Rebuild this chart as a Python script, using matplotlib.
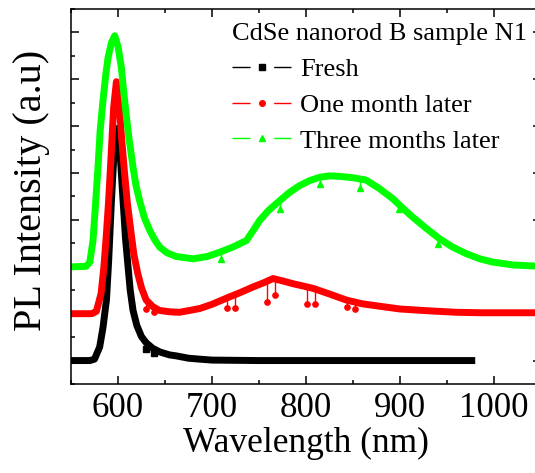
import numpy as np
import matplotlib
matplotlib.use("Agg")
import matplotlib.pyplot as plt
from matplotlib.lines import Line2D
from matplotlib.ticker import MultipleLocator, NullFormatter

# PL spectra of CdSe nanorod B sample N1
wl_fresh = [550, 570, 575, 580.5, 584, 587.7, 590, 593, 596.5, 599, 602, 605.4, 608,
            610.7, 613, 616, 620, 625, 630, 637, 645, 655, 662, 675, 687, 700, 750,
            850, 980]
pl_fresh = [0.0, 0.0, 0.03, 0.29, 0.7, 1.29, 2.1, 3.41, 4.69, 4.95, 4.5, 3.41, 2.6,
            2.0, 1.5, 1.07, 0.75, 0.51, 0.38, 0.26, 0.18, 0.12, 0.10, 0.05, 0.03, 0.01,
            0.0, 0.0, 0.0]

wl_month = [550, 572, 577, 582, 585, 587.7, 590, 592, 595.4, 598.3, 601.8, 604, 607,
            610, 614, 617, 621, 625, 630, 637, 644, 655, 665.6, 687, 700, 718.8, 730,
            743.6, 755, 765, 775, 786, 797, 807.5, 825, 843, 860, 878, 900, 931.6, 960,
            985, 1050]
pl_month = [1.0, 1.0, 1.05, 1.43, 2.0, 2.71, 3.4, 4.12, 5.40, 5.95, 5.33, 4.7, 3.99,
            3.35, 2.71, 2.25, 1.86, 1.55, 1.29, 1.15, 1.07, 1.04, 1.03, 1.11, 1.2, 1.36,
            1.45, 1.57, 1.66, 1.75, 1.70, 1.64, 1.59, 1.54, 1.42, 1.29, 1.21, 1.16, 1.10,
            1.06, 1.03, 1.02, 1.02]

wl_three = [550, 566, 570, 573.4, 576, 578.7, 581, 584, 587, 589.4, 593, 596.5, 600,
            603.6, 606, 609, 612, 616, 619, 623, 628, 633.7, 639, 644.4, 652, 662, 680,
            695, 708, 722, 736.6, 744, 750.7, 760, 772, 782, 793, 804, 814.6, 825,
            835.8, 850, 864, 878, 892.5, 903, 913.5, 928, 942, 956, 970.6, 985, 998.8,
            1020, 1050]
pl_three = [2.0, 2.01, 2.1, 2.56, 3.3, 4.12, 4.9, 5.54, 6.1, 6.46, 6.78, 6.93, 6.7,
            6.25, 5.75, 5.19, 4.7, 4.12, 3.75, 3.41, 3.05, 2.78, 2.58, 2.42, 2.3, 2.22,
            2.17, 2.22, 2.31, 2.42, 2.56, 2.78, 2.99, 3.2, 3.41, 3.58, 3.73, 3.84, 3.91,
            3.94, 3.93, 3.9, 3.85, 3.67, 3.45, 3.25, 3.06, 2.82, 2.60, 2.42, 2.28, 2.17,
            2.10, 2.04, 2.01]

# stray points hanging off the curves
glitch_fresh_x = [629.5, 638]
glitch_fresh_y = [0.24, 0.17]
glitch_month_x = [629.5, 638, 716, 724, 758.5, 767, 801.5, 809.6, 844, 852]
glitch_month_y = [1.11, 1.04, 1.12, 1.13, 1.24, 1.39, 1.20, 1.20, 1.15, 1.10]
glitch_three_x = [710, 772, 814.6, 857, 899, 940]
glitch_three_y = [2.17, 3.24, 3.77, 3.68, 3.24, 2.49]

labels = ["Fresh", "One month later", "Three months later"]
colors = ["#000000", "#ff0000", "#00ff00"]
markers = ["s", "o", "^"]

plt.rcParams['font.family'] = ['Liberation Serif', 'DejaVu Serif']

fig = plt.figure(figsize=(5.35, 4.73), dpi=100)
ax = fig.add_axes([71/535, 89/473, 470/535, 375/473])

series = [(wl_fresh, pl_fresh, glitch_fresh_x, glitch_fresh_y),
          (wl_month, pl_month, glitch_month_x, glitch_month_y),
          (wl_three, pl_three, glitch_three_x, glitch_three_y)]

for (x, y, gx, gy), c, m in zip(series, colors, markers):
    ax.plot(x, y, color=c, lw=5, solid_joinstyle='round', solid_capstyle='butt')
    base = np.interp(gx, x, y)
    ax.vlines(gx, gy, base, color=c, lw=1)
    ax.plot(gx, gy, ls='none', marker=m, color=c, ms=3.8)

ax.set_xlim(550, 1050)
ax.set_ylim(-0.5, 7.5)
ax.xaxis.set_major_locator(MultipleLocator(100))
ax.xaxis.set_minor_locator(MultipleLocator(50))
ax.yaxis.set_major_locator(MultipleLocator(1))
ax.yaxis.set_minor_locator(MultipleLocator(0.5))
ax.yaxis.set_major_formatter(NullFormatter())
ax.tick_params(which='both', direction='in', top=True, right=True, width=1.1)
ax.tick_params(which='major', length=5.5, labelsize=25, pad=6)
ax.tick_params(which='minor', length=3)
for s in ax.spines.values():
    s.set_linewidth(1.1)

ax.set_xlabel("Wavelength (nm)", fontsize=25.5, labelpad=1)
ax.set_ylabel("PL Intensity (a.u)", fontsize=29)
ax.yaxis.set_label_coords(-21/470, 0.517)

handles = [Line2D([], [], color=c, lw=1, marker=m, ms=4,
                  ls=(0, (13, 17, 13)))
           for c, m in zip(colors, markers)]
leg = ax.legend(handles, labels, title="CdSe nanorod B sample N1",
                loc='upper left', bbox_to_anchor=(232/535, 1 - 23/473),
                bbox_transform=fig.transFigure, frameon=False,
                fontsize=19, title_fontsize=19, alignment='left',
                handlelength=2.24, handletextpad=0.34, labelspacing=0.47,
                borderpad=0, borderaxespad=0, numpoints=1)

fig.savefig("out.png", dpi=100)
